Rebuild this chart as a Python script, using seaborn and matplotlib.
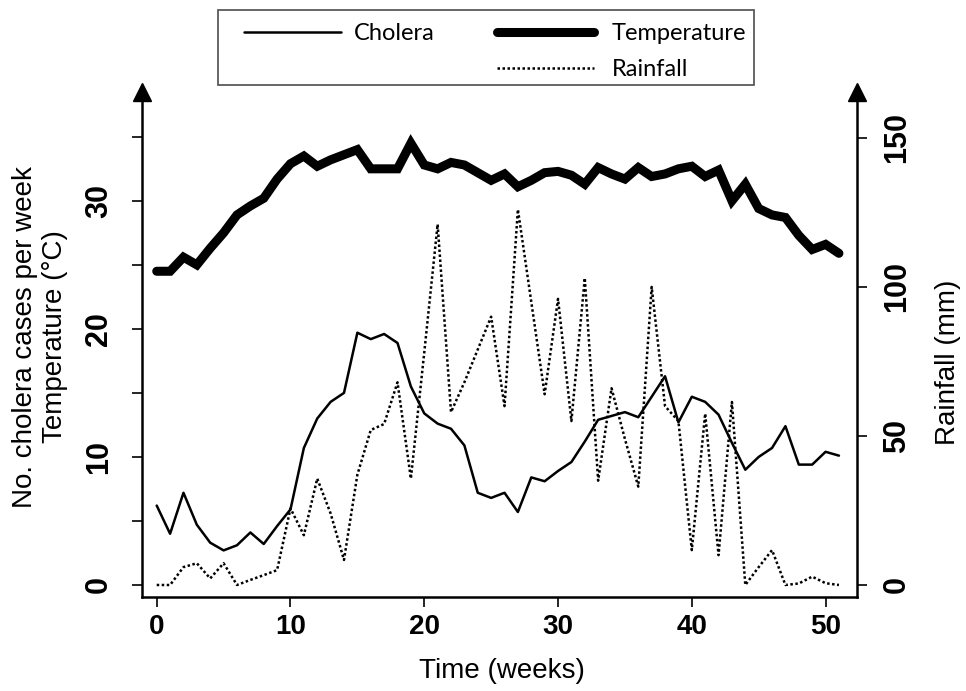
import matplotlib
matplotlib.use("Agg")
import matplotlib.pyplot as plt
from matplotlib.lines import Line2D
from matplotlib.patches import Rectangle
import seaborn as sns

# weekly series
weeks = list(range(52))
cholera = [6.2, 4.0, 7.2, 4.7, 3.3, 2.7, 3.1, 4.1, 3.2, 4.6,
           5.9, 10.7, 13.0, 14.3, 15.0, 19.7, 19.2, 19.6, 18.9, 15.5,
           13.4, 12.6, 12.2, 10.9, 7.2, 6.8, 7.2, 5.7, 8.4, 8.1,
           8.9, 9.6, 11.2, 12.9, 13.2, 13.5, 13.1, 14.7, 16.3, 12.7,
           14.7, 14.3, 13.3, 11.1, 9.0, 10.0, 10.7, 12.4, 9.4, 9.4,
           10.4, 10.1]
temperature = [24.5, 24.5, 25.6, 25.0, 26.3, 27.5, 28.9, 29.6, 30.2, 31.7,
               32.9, 33.5, 32.7, 33.2, 33.6, 34.0, 32.5, 32.5, 32.5, 34.5,
               32.8, 32.5, 33.0, 32.8, 32.2, 31.6, 32.1, 31.1, 31.6, 32.2,
               32.3, 32.0, 31.3, 32.6, 32.1, 31.7, 32.6, 31.9, 32.1, 32.5,
               32.7, 31.9, 32.4, 30.0, 31.3, 29.4, 28.9, 28.7, 27.3, 26.2,
               26.6, 25.9]
rainfall = [0, 0, 6, 7.3, 2.2, 7.3, 0, 1.7, 3.3, 5,
            25.7, 16.7, 35.7, 24, 8.4, 37, 52, 54, 68, 35.7,
            78, 121, 58, 68, 79, 90, 60, 126, 95, 64,
            96, 55, 103, 35, 66, 49, 33, 100, 60, 55,
            11.7, 57.5, 10, 61.4, 0, 6, 11.7, 0, 0.5, 2.8,
            0.6, 0]

left_ticks = [0, 5, 10, 15, 20, 25, 30, 35]
left_labels = ["0", "", "10", "", "20", "", "30", ""]
right_ticks = [0, 50, 100, 150]
x_ticks = [0, 10, 20, 30, 40, 50]

sns.set_style("ticks")
plt.rcParams["font.family"] = ["Liberation Sans", "DejaVu Sans"]
for key in ["text.color", "axes.labelcolor", "xtick.color", "ytick.color", "axes.edgecolor"]:
    plt.rcParams[key] = "black"

W, H = 966, 691
fig = plt.figure(figsize=(W / 100, H / 100), dpi=100)
ax = fig.add_axes([142 / W, 1 - 597 / H, 715 / W, 505 / H])
ax2 = ax.twinx()

dots = (0, (1, 1))
sns.lineplot(x=weeks, y=temperature, ax=ax, color="black", lw=6.5,
             solid_joinstyle="miter")
sns.lineplot(x=weeks, y=cholera, ax=ax, color="black", lw=1.8,
             solid_joinstyle="round")
sns.lineplot(x=weeks, y=rainfall, ax=ax2, color="black", lw=1.8,
             linestyle=dots)

ax.set_xlim(-1.1, 52.35)
ax.set_ylim(-0.94, 38.5)
ax2.set_ylim(-4.03, 165.4)

ax.set_xticks(x_ticks)
ax.set_yticks(left_ticks)
ax.set_yticklabels(left_labels)
ax2.set_yticks(right_ticks)

for s in ["top", "right"]:
    ax.spines[s].set_visible(False)
for s in ["top", "left", "bottom"]:
    ax2.spines[s].set_visible(False)
for s in ax.spines.values():
    s.set_linewidth(1.8)
ax2.spines["right"].set_linewidth(1.8)

ax.tick_params(axis="x", direction="out", length=7, width=1.2, pad=5, labelsize=20)
ax.tick_params(axis="y", direction="out", length=7, width=1.2, pad=13, labelsize=22)
ax2.tick_params(axis="y", direction="out", length=7, width=1.2, pad=11, labelsize=22)
for lab in ax.get_xticklabels():
    lab.set_fontweight("bold")
for lab in ax.get_yticklabels() + ax2.get_yticklabels():
    lab.set_fontweight("bold")
    lab.set_rotation(90)
    lab.set_verticalalignment("center")

# arrow heads on the vertical axes
ax.plot([0, 1], [1, 1], linestyle="none", marker="^", ms=13, color="black",
        transform=ax.transAxes, clip_on=False)

ax.set_xlabel("Time (weeks)", fontsize=20)
ax.xaxis.set_label_coords(0.503, -0.121)
ax.set_ylabel("No. cholera cases per week\nTemperature (°C)", fontsize=20)
ax.yaxis.set_label_coords(-0.1035, 0.515)
ax2.set_ylabel("Rainfall (mm)", fontsize=20)
ax2.yaxis.set_label_coords(1.109, 0.465)

# legend: framed box with two columns
fig.patches.append(Rectangle((218 / W, 1 - 85 / H), 536 / W, 75 / H,
                             transform=fig.transFigure, fill=False,
                             edgecolor="0.3", lw=1.2))
prop = {"family": ["Lato", "DejaVu Sans"], "size": 17}
h_chol = Line2D([], [], color="black", lw=1.8)
h_temp = Line2D([], [], color="black", lw=6.5)
h_rain = Line2D([], [], color="black", lw=1.8, linestyle=dots)
fig.legend([h_chol], ["Cholera"], loc="upper left", bbox_to_anchor=(244 / W, 1 - 23 / H),
           frameon=False, borderpad=0, borderaxespad=0, handlelength=4.1,
           handletextpad=0.55, prop=prop)
fig.legend([h_temp, h_rain], ["Temperature", "Rainfall"], loc="upper left",
           bbox_to_anchor=(497 / W, 1 - 23 / H), frameon=False, borderpad=0,
           borderaxespad=0, handlelength=4.1, handletextpad=0.75,
           labelspacing=0.65, prop=prop)

fig.savefig("out.png", dpi=100)
